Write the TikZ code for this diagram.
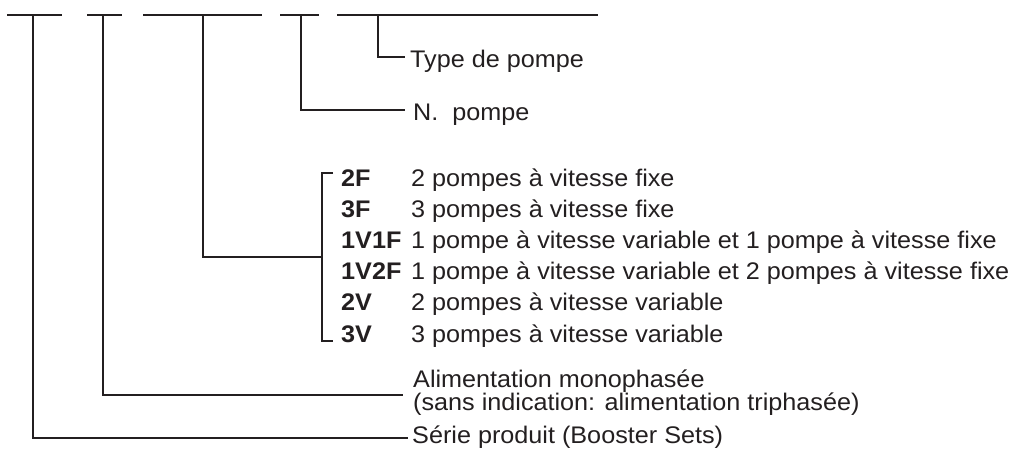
\documentclass[tikz,border=0pt]{standalone}
\usepackage{fontspec}
\setmainfont[FakeStretch=1.05]{Liberation Sans}
\definecolor{ink}{HTML}{231F20}
\begin{document}
\begin{tikzpicture}[x=1pt,y=-1pt,
  wire/.style={draw=ink,line width=1.6pt},
  lbl/.style={inner sep=0pt,anchor=base west,text=ink,font=\fontsize{24}{24}\selectfont},
  code/.style={lbl,font=\fontsize{24}{24}\selectfont\bfseries}]
\useasboundingbox (0,0) rectangle (1021,455);
% top segments
\draw[wire] (7,15) -- (62,15);
\draw[wire] (87,15) -- (122,15);
\draw[wire] (143,15) -- (262,15);
\draw[wire] (280,15) -- (319,15);
\draw[wire] (337,15) -- (598,15);
\coordinate (v1) at (33,15);
\coordinate (v2) at (103,15);
\coordinate (v3) at (203,15);
\coordinate (v4) at (301,15);
\coordinate (v5) at (378,15);
% texts
\node[lbl] (type) at (410,67) {Type de pompe};
\node[lbl] (npompe) at (413,120) {N.\ \ pompe};
\foreach \c/\d [count=\i from 0] in {2F/2 pompes à vitesse fixe,3F/3 pompes à vitesse fixe,1V1F/1 pompe à vitesse variable et 1 pompe à vitesse fixe,1V2F/1 pompe à vitesse variable et 2 pompes à vitesse fixe,2V/2 pompes à vitesse variable,3V/3 pompes à vitesse variable}{
  \node[code] (c\i) at (341,186+31.2*\i) {\c};
  \node[lbl] (d\i) at (411,186+31.2*\i) {\d};
}
\node[lbl] (alim1) at (413,387) {Alimentation monophasée};
\node[lbl] (alim2) at (413,410) {(sans indication: alimentation triphasée)};
\node[lbl] (serie) at (412,443) {Série produit (Booster Sets)};
% connector ends
\coordinate (typeE) at (405,57);
\coordinate (npE) at (405,110);
\coordinate (brT) at (333,173);
\coordinate (brB) at (333,341);
\coordinate (brM) at (322,257);
\coordinate (alimE) at (403,395);
\coordinate (serieE) at (408,438);
% connectors
\draw[wire] (v5) |- (typeE);
\draw[wire] (v4) |- (npE);
\draw[wire] (v3) |- (brM);
\draw[wire] (brT) -| (brM) |- (brB);
\draw[wire] (v2) |- (alimE);
\draw[wire] (v1) |- (serieE);
\end{tikzpicture}
\end{document}
